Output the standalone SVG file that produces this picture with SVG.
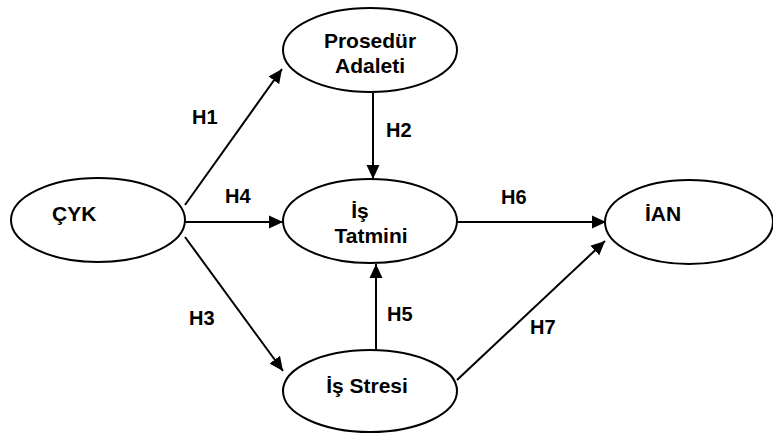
<svg xmlns="http://www.w3.org/2000/svg" width="773" height="437" viewBox="0 0 773 437">
<style>
.n{fill:#fff;stroke:#000;stroke-width:2}
.t{font-family:"Liberation Sans",Arial,sans-serif;font-weight:bold;font-size:21px;fill:#000}
.h{font-family:"Liberation Sans",Arial,sans-serif;font-weight:bold;font-size:20px;fill:#000}
.c line{stroke:#000;stroke-width:2}
</style>
<defs>
<marker id="ah" markerUnits="userSpaceOnUse" markerWidth="15" markerHeight="15" viewBox="0 0 15 15" refX="14" refY="7.5" orient="auto">
<path d="M0,1 L14,7.5 L0,14 Z" fill="#000"/>
</marker>
</defs>
<rect width="773" height="437" fill="#fff"/>
<g class="c" id="connectors">
<line x1="185" y1="205" x2="282" y2="69" marker-end="url(#ah)"/>
<line x1="373" y1="93" x2="373" y2="179" marker-end="url(#ah)"/>
<line x1="185" y1="222" x2="283" y2="222" marker-end="url(#ah)"/>
<line x1="185" y1="237" x2="283" y2="371" marker-end="url(#ah)"/>
<line x1="376" y1="351" x2="376" y2="264" marker-end="url(#ah)"/>
<line x1="457" y1="222" x2="606" y2="222" marker-end="url(#ah)"/>
<line x1="457" y1="380" x2="605" y2="241" marker-end="url(#ah)"/>
</g>
<g id="labels" class="h">
<text x="192" y="124">H1</text>
<text x="386" y="137">H2</text>
<text x="225" y="203">H4</text>
<text x="501" y="204">H6</text>
<text x="189" y="325">H3</text>
<text x="387" y="321">H5</text>
<text x="530" y="334">H7</text>
</g>
<g id="prosedur">
<ellipse class="n" cx="370" cy="50" rx="87" ry="42"/>
<text class="t" x="370" y="48" text-anchor="middle">Prosedür</text>
<text class="t" x="370" y="73" text-anchor="middle">Adaleti</text>
</g>
<g id="cyk">
<ellipse class="n" cx="98" cy="220" rx="87" ry="42"/>
<text class="t" x="52" y="221">ÇYK</text>
</g>
<g id="istatmini">
<ellipse class="n" cx="370" cy="221" rx="87" ry="42"/>
<text class="t" x="360" y="218" text-anchor="middle">İş</text>
<text class="t" x="371" y="243" text-anchor="middle">Tatmini</text>
</g>
<g id="ian">
<ellipse class="n" cx="689" cy="222" rx="84" ry="42"/>
<text class="t" x="645" y="221">İAN</text>
</g>
<g id="isstresi">
<ellipse class="n" cx="370" cy="391" rx="87" ry="41"/>
<text class="t" x="367" y="393" text-anchor="middle">İş Stresi</text>
</g>
</svg>
